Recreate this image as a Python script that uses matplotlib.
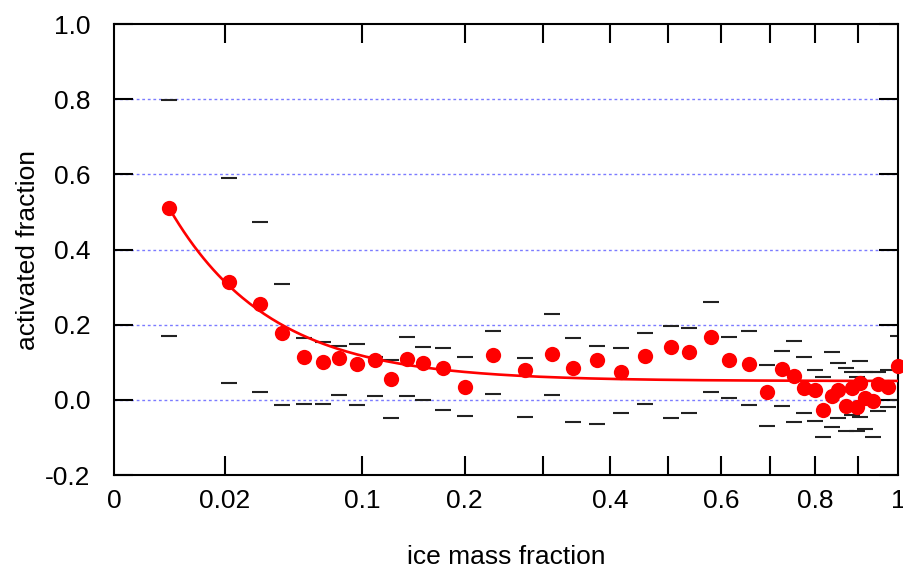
import numpy as np
import matplotlib
matplotlib.use("Agg")
import matplotlib.pyplot as plt

# ---- data ----
ice_mass_fraction = [0.005, 0.0214, 0.0347, 0.0458, 0.0587, 0.0713, 0.0824, 0.0958, 0.1111, 0.1246,
                     0.1394, 0.1549, 0.1758, 0.2004, 0.2341, 0.2748, 0.3121, 0.3423, 0.3791, 0.4182,
                     0.4587, 0.5042, 0.5385, 0.5799, 0.6153, 0.6566, 0.6944, 0.7266, 0.7523, 0.7746,
                     0.7995, 0.8185, 0.8380, 0.8535, 0.8717, 0.8853, 0.8974, 0.9054, 0.9176, 0.9380,
                     0.9504, 0.9754, 0.999]
activated = [0.511, 0.313, 0.255, 0.179, 0.114, 0.100, 0.111, 0.095, 0.106, 0.056,
             0.109, 0.098, 0.084, 0.034, 0.118, 0.080, 0.122, 0.085, 0.106, 0.075,
             0.117, 0.141, 0.126, 0.167, 0.107, 0.096, 0.021, 0.082, 0.063, 0.032,
             0.025, -0.027, 0.009, 0.025, -0.016, 0.031, -0.018, 0.046, 0.004, -0.004,
             0.043, 0.033, 0.089]
act_upper = [0.799, 0.589, 0.473, 0.308, 0.164, 0.154, 0.144, 0.148, 0.115, 0.107,
             0.166, 0.141, 0.139, 0.115, 0.182, 0.110, 0.228, 0.165, 0.142, 0.138,
             0.177, 0.196, 0.191, 0.260, 0.166, 0.184, 0.092, 0.129, 0.156, 0.114,
             0.080, 0.060, 0.126, 0.098, 0.084, 0.075, 0.060, 0.104, 0.075, 0.075,
             0.075, 0.080, 0.171]
act_lower = [0.171, 0.044, 0.022, -0.015, -0.010, -0.011, 0.014, -0.013, 0.009, -0.049,
             0.011, 0.000, -0.026, -0.044, 0.015, -0.045, 0.013, -0.060, -0.063, -0.035,
             -0.010, -0.049, -0.036, 0.022, 0.006, -0.013, -0.069, -0.017, -0.060, -0.035,
             -0.056, -0.100, -0.073, -0.049, -0.084, -0.040, -0.084, -0.045, -0.077, -0.100,
             -0.031, -0.018, 0.000]

# fitted curve parameters: y = a + b * exp(-sqrt(x) / c)
fit_a, fit_b, fit_c = 0.05, 0.797, 0.128
fit_range = (0.005, 1.0)

x_tick_values = [0.02, 0.1, 0.2, 0.3, 0.4, 0.5, 0.6, 0.7, 0.8, 0.9]
x_label_values = [0, 0.02, 0.1, 0.2, 0.4, 0.6, 0.8, 1]
x_label_texts = ["0", "0.02", "0.1", "0.2", "0.4", "0.6", "0.8", "1"]
y_tick_values = [-0.2, 0.0, 0.2, 0.4, 0.6, 0.8, 1.0]
y_tick_texts = ["-0.2", "0.0", "0.2", "0.4", "0.6", "0.8", "1.0"]
grid_values = [0.0, 0.2, 0.4, 0.6, 0.8]

plt.rcParams['font.family'] = ['Liberation Sans', 'DejaVu Sans']
FS = 19

fig = plt.figure(figsize=(9.04, 5.68), dpi=100)
ax = fig.add_axes([114/904, 1-475/568, 784/904, 451/568])
ax.set_xscale('function', functions=(lambda v: np.sqrt(np.clip(v, 0, None)), np.square))
ax.set_xlim(0, 1)
ax.set_ylim(-0.2, 1.0)

for g in grid_values:
    ax.axhline(g, color='#7b7bff', lw=1.0, ls=(0, (2, 2)), zorder=1)

ax.plot(ice_mass_fraction, act_upper, ls='none', marker='_', ms=11, mew=1.5, color='#222222', zorder=2)
ax.plot(ice_mass_fraction, act_lower, ls='none', marker='_', ms=11, mew=1.5, color='#222222', zorder=2)

xf = np.linspace(np.sqrt(fit_range[0]), np.sqrt(fit_range[1]), 300) ** 2
yf = fit_a + fit_b * np.exp(-np.sqrt(xf) / fit_c)
ax.plot(xf, yf, color='#ff0000', lw=1.9, zorder=3)

ax.plot(ice_mass_fraction, activated, ls='none', marker='o', ms=11, color='#ff0000',
        mec='none', zorder=4, clip_on=False)

# ticks
ax.set_xticks(x_tick_values)
ax.set_xticklabels([""] * len(x_tick_values))
ax.set_xticks([], minor=True)
ax.tick_params(axis='x', which='major', direction='in', length=14, width=1.5, top=True, bottom=True)
for v, t in zip(x_label_values, x_label_texts):
    ax.text(v, -0.03, t, transform=ax.get_xaxis_transform(), ha='center', va='top', fontsize=FS)

ax.set_yticks(y_tick_values)
ax.set_yticklabels(y_tick_texts)
ax.tick_params(axis='y', direction='in', length=14, width=1.5, left=True, right=True,
               labelsize=FS, pad=17)
for s in ax.spines.values():
    s.set_linewidth(1.5)

ax.set_ylabel("activated fraction", fontsize=FS)
ax.yaxis.set_label_coords(-0.11, 0.5)
ax.set_xlabel("ice mass fraction", fontsize=FS)
ax.xaxis.set_label_coords(0.5, -0.182)
ax.xaxis.label.set_va('center')
ax.yaxis.label.set_va('center')

fig.savefig("out.png", dpi=100)
